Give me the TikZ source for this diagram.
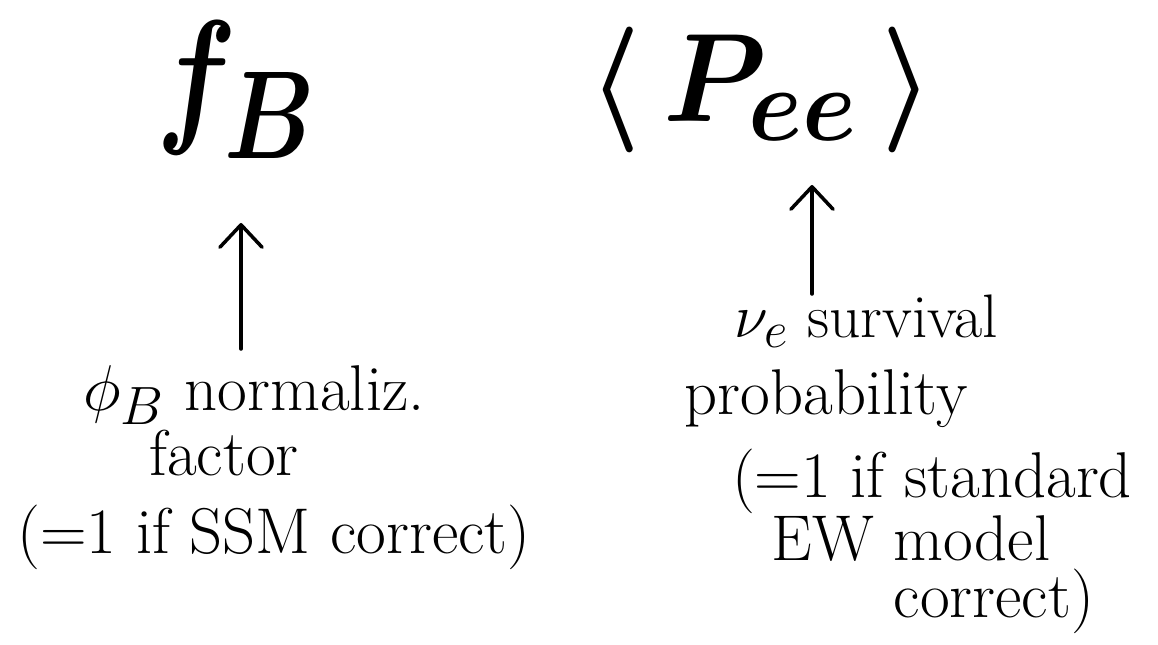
\documentclass[tikz,border=0pt]{standalone}
\usetikzlibrary{arrows.meta}
\begin{document}
\begin{tikzpicture}[
  big/.style={font=\Huge\boldmath, inner sep=0pt},
  note/.style={font=\Huge, scale=1.85, inner sep=0pt, anchor=base},
  uparrow/.style={line width=2.5pt, line cap=round,
    -{Straight Barb[length=16pt, width=30pt, line width=2.5pt, round]}}]
  \useasboundingbox (0,0) rectangle (28.95,16.1);
  % quantities
  \node[big, xscale=3.4, yscale=4.3] (fB) at (5.925,13.85) {$f_B$};
  \node[big, xscale=3.35, yscale=3.6] (Pee) at (19.025,13.85) {$\langle\,P_{ee}\,\rangle$};
  % left explanation
  \node[note] (phi) at (6.35,5.85) {$\phi_B$ normaliz.};
  \node[note] (factor) at (5.6,4.225) {factor};
  \node[note] (ssm) at (6.85,2.275) {(=1 if SSM correct)};
  % right explanation
  \node[note, scale=0.95] (nue) at (21.65,7.65) {$\nu_e$ survival};
  \node[note] (prob) at (20.65,5.75) {probability};
  \node[note] (std) at (23.3,3.675) {(=1 if standard};
  \node[note] (ew) at (22.775,2.1) {EW model};
  \node[note] (corr) at (24.85,0.675) {correct)};
  % arrows
  \coordinate (ltail) at (6.025,7.375);
  \coordinate (ltip) at (6.025,10.525);
  \coordinate (rtail) at (20.3,8.75);
  \coordinate (rtip) at (20.3,11.475);
  \draw[uparrow] (ltail) -- (ltip);
  \draw[uparrow] (rtail) -- (rtip);
\end{tikzpicture}
\end{document}
